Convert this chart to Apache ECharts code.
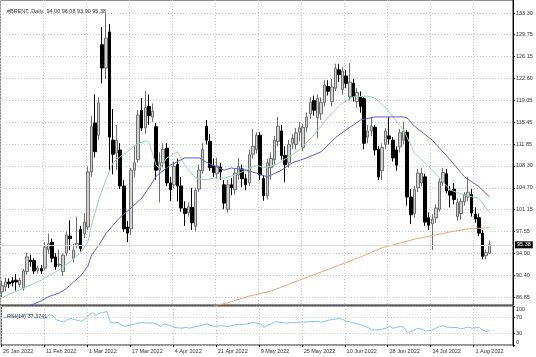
<!DOCTYPE html>
<html><head><meta charset="utf-8">
<script src="https://cdn.jsdelivr.net/npm/echarts@6/dist/echarts.min.js"></script>
<style>html,body{margin:0;padding:0;background:#fff}#c{width:536px;height:357px}</style>
</head><body><div id="c"></div>
<script>
const symbolName = '#BRENT.,Daily';
const dates = ['26 Jan 2022','27 Jan 2022','28 Jan 2022','31 Jan 2022','1 Feb 2022','2 Feb 2022','3 Feb 2022','4 Feb 2022','7 Feb 2022','8 Feb 2022','9 Feb 2022','10 Feb 2022',
'11 Feb 2022','14 Feb 2022','15 Feb 2022','16 Feb 2022','17 Feb 2022','18 Feb 2022','21 Feb 2022','22 Feb 2022','23 Feb 2022','24 Feb 2022','25 Feb 2022','28 Feb 2022',
'1 Mar 2022','2 Mar 2022','3 Mar 2022','4 Mar 2022','7 Mar 2022','8 Mar 2022','9 Mar 2022','10 Mar 2022','11 Mar 2022','14 Mar 2022','15 Mar 2022','16 Mar 2022',
'17 Mar 2022','18 Mar 2022','21 Mar 2022','22 Mar 2022','23 Mar 2022','24 Mar 2022','25 Mar 2022','28 Mar 2022','29 Mar 2022','30 Mar 2022','31 Mar 2022','1 Apr 2022',
'4 Apr 2022','5 Apr 2022','6 Apr 2022','7 Apr 2022','8 Apr 2022','11 Apr 2022','12 Apr 2022','13 Apr 2022','14 Apr 2022','18 Apr 2022','19 Apr 2022','20 Apr 2022',
'21 Apr 2022','22 Apr 2022','25 Apr 2022','26 Apr 2022','27 Apr 2022','28 Apr 2022','29 Apr 2022','2 May 2022','3 May 2022','4 May 2022','5 May 2022','6 May 2022',
'9 May 2022','10 May 2022','11 May 2022','12 May 2022','13 May 2022','16 May 2022','17 May 2022','18 May 2022','19 May 2022','20 May 2022','23 May 2022','24 May 2022',
'25 May 2022','26 May 2022','27 May 2022','30 May 2022','31 May 2022','1 Jun 2022','2 Jun 2022','3 Jun 2022','6 Jun 2022','7 Jun 2022','8 Jun 2022','9 Jun 2022',
'10 Jun 2022','13 Jun 2022','14 Jun 2022','15 Jun 2022','16 Jun 2022','17 Jun 2022','20 Jun 2022','21 Jun 2022','22 Jun 2022','23 Jun 2022','24 Jun 2022','27 Jun 2022',
'28 Jun 2022','29 Jun 2022','30 Jun 2022','1 Jul 2022','4 Jul 2022','5 Jul 2022','6 Jul 2022','7 Jul 2022','8 Jul 2022','11 Jul 2022','12 Jul 2022','13 Jul 2022',
'14 Jul 2022','15 Jul 2022','18 Jul 2022','19 Jul 2022','20 Jul 2022','21 Jul 2022','22 Jul 2022','25 Jul 2022','26 Jul 2022','27 Jul 2022','28 Jul 2022','29 Jul 2022',
'1 Aug 2022','2 Aug 2022','3 Aug 2022','4 Aug 2022','5 Aug 2022'];
const opens = [87.7,88.5,89.3,89.5,89.6,88.9,88.3,91.0,92.9,92.8,91.2,91.5,
91.6,94.6,95.8,93.4,92.1,91.0,94.0,96.8,93.2,95.3,97.9,97.2,
98.3,107.3,115.3,113.3,128.1,124.3,130.2,112.5,110.4,110.9,105.0,98.3,
98.0,107.6,109.3,117.4,114.5,118.0,116.3,114.7,107.6,108.8,111.2,105.5,
105.2,108.5,105.0,101.3,100.6,101.5,98.4,104.5,107.5,114.8,112.3,108.3,
107.0,108.1,105.2,101.2,105.2,104.4,106.8,107.8,106.2,105.5,110.2,111.0,
113.3,106.2,103.4,108.0,109.3,112.3,114.0,110.0,108.8,112.0,111.8,113.8,
111.3,114.6,116.8,119.0,116.2,116.8,118.7,121.3,118.8,121.0,124.0,120.8,
123.0,119.6,121.8,118.8,119.6,119.3,113.0,114.0,114.6,111.0,107.5,111.8,
113.2,112.5,110.9,111.4,112.5,113.8,103.2,100.5,104.7,105.5,106.5,99.8,
98.8,99.8,101.2,105.6,107.0,104.2,104.5,100.0,100.5,102.4,103.2,103.6,
100.4,99.8,97.3,93.6,94.00];
const highs = [89.5,90.0,89.9,90.1,90.6,90.0,91.4,94.1,93.8,93.2,92.0,92.1,
95.8,97.2,96.4,94.0,94.6,94.0,97.6,99.4,95.5,100.0,98.5,100.6,
108.2,116.5,120.0,119.5,131.0,133.3,131.5,117.6,115.0,112.0,106.0,99.3,
108.0,111.5,117.4,119.4,120.6,120.0,118.5,115.3,110.5,112.0,112.0,106.5,
109.0,109.5,106.5,102.5,102.3,104.7,104.7,108.5,112.0,115.8,113.5,109.5,
109.6,108.8,106.0,106.0,106.3,107.8,109.6,108.5,107.0,111.0,114.3,113.8,
113.8,106.8,109.5,110.5,113.2,116.3,115.0,111.5,112.5,113.5,114.5,115.5,
115.2,117.0,119.5,119.8,120.0,119.5,122.3,122.3,122.5,125.0,125.0,124.5,
124.0,125.1,122.5,121.0,120.5,119.5,115.0,116.3,115.0,111.5,112.0,114.5,
116.3,113.0,111.5,114.3,115.5,114.2,104.5,105.0,107.8,108.0,107.0,100.7,
100.4,102.0,106.3,108.0,107.8,105.0,105.5,103.0,103.0,104.0,106.5,104.5,
101.5,100.5,97.8,94.6,96.08];
const lows = [86.8,87.8,88.3,88.6,87.9,88.4,87.9,90.5,91.8,90.6,90.7,90.6,
91.2,93.9,92.5,91.3,91.7,90.3,93.5,94.5,92.5,94.8,94.3,96.5,
97.8,106.5,109.7,112.5,121.8,122.5,107.6,106.9,107.6,104.5,97.5,95.8,
97.0,106.5,108.8,114.0,113.5,115.0,115.5,106.0,102.3,108.0,105.0,102.5,
104.6,102.5,100.8,98.5,100.0,97.8,97.6,104.0,107.0,111.8,107.5,106.5,
106.2,106.0,101.2,100.6,103.5,103.6,106.0,104.8,104.3,105.0,109.5,110.3,
106.0,102.6,102.8,106.0,108.5,111.5,109.3,105.6,108.0,111.0,111.0,112.3,
110.7,113.8,116.0,116.5,112.8,115.8,118.0,119.8,118.0,120.5,122.0,120.0,
121.0,119.0,118.8,117.8,117.0,111.0,112.0,113.2,110.0,106.0,106.0,111.0,
111.8,109.0,107.5,110.5,111.8,101.8,98.8,99.8,104.0,105.0,98.5,97.8,
94.5,99.0,100.8,105.0,103.8,101.5,102.0,99.3,99.5,101.8,102.5,100.0,
99.0,96.8,93.0,93.0,93.90];
const closes = [88.7,89.3,89.0,89.2,89.3,89.6,91.1,93.4,92.6,91.1,91.6,91.1,
95.0,95.6,93.2,91.8,92.2,93.7,97.0,96.4,94.5,95.6,94.8,99.1,
107.3,114.7,110.6,118.6,124.3,129.2,113.0,110.2,112.5,105.0,98.0,97.3,
107.6,108.8,116.6,114.5,117.8,116.5,117.2,107.6,108.8,111.0,105.5,104.4,
108.2,105.0,101.4,100.5,101.6,99.0,104.3,107.6,111.0,112.5,108.0,107.2,
108.3,107.3,102.2,105.2,104.7,107.1,108.2,106.2,105.2,110.1,111.5,113.3,
106.8,103.4,108.8,109.5,112.5,114.8,110.0,108.5,111.8,112.8,113.7,114.5,
114.6,116.3,118.7,117.4,119.3,118.7,121.5,120.5,121.2,124.2,123.2,123.8,
121.8,122.0,119.6,120.3,118.0,112.0,114.0,114.8,110.9,106.5,111.3,114.0,
112.7,109.6,108.4,113.7,114.0,103.2,100.3,104.4,107.1,107.1,99.1,98.6,
99.6,101.4,105.7,107.2,104.2,103.5,102.8,102.3,102.5,103.6,104.0,100.6,
99.6,97.3,93.5,94.1,95.38];
// moving averages: [bar index, value]
const maFast = [[0,86.7],[2,87.3],[5,88.0],[8,88.8],[11,89.6],[13,90.3],[16,91.3],[19,92.6],[22,94.1],[24,95.9],[25,98.6],[27,102.7],[29,106.0],[31,108.8],[33,109.8],[35,110.6],[37,111.6],[40,112.4],[41,112.2],[43,108.4],[44,107.9],[46,109.6],[49,110.6],[51,108.4],[54,106.3],[57,106.0],[59,106.3],[62,106.3],[65,106.8],[68,107.6],[71,108.4],[73,108.0],[76,108.4],[80,109.75],[83,110.9],[87,113.35],[91,116.3],[95,118.6],[98,119.6],[102,119.7],[104,119.4],[107,117.8],[112,114.2],[115,110.4],[120,107.6],[125,104.35],[129,103.5],[133,103.0],[136,100.6]];
const maMid = [[8,85.5],[11,86.2],[13,86.9],[16,87.5],[18,88.2],[20,89.3],[22,90.3],[24,91.9],[25,93.7],[27,95.3],[29,97.2],[31,98.6],[33,99.9],[36,101.4],[39,103.0],[41,104.7],[43,106.6],[47,108.4],[51,109.6],[55,109.6],[57,108.9],[60,108.1],[62,107.6],[64,107.95],[68,107.6],[71,107.1],[74,106.5],[78,107.6],[81,108.8],[85,109.6],[89,110.6],[93,112.9],[96,114.2],[100,115.8],[104,116.3],[107,116.3],[112,116.3],[113,116.1],[115,114.8],[120,112.5],[125,109.26],[129,106.5],[133,104.9],[136,103.2]];
const maSlow = [[59,85.4],[63,85.9],[69,87.0],[75,87.8],[83,89.6],[92,91.6],[100,93.4],[106,94.9],[115,96.3],[125,97.5],[130,98.0],[136,98.2]];
const rsiPoints = [[0,69.8],[2,72.4],[5,74.2],[7,79.6],[8,77.8],[9,68.9],[10,71.5],[11,67.1],[12,69.8],[13,77.8],[14,74.2],[15,63.6],[17,59.1],[18,65.3],[19,68.0],[21,62.7],[22,60.9],[23,67.1],[24,76.9],[25,83.1],[26,76.0],[27,81.3],[28,83.1],[29,85.8],[30,58.2],[31,56.4],[32,58.2],[33,52.0],[34,47.6],[36,52.0],[38,56.4],[39,58.2],[40,56.4],[42,56.4],[43,53.8],[44,47.6],[45,53.8],[47,49.3],[48,44.9],[50,43.1],[51,45.8],[52,43.1],[54,47.6],[55,49.3],[57,53.8],[59,47.6],[61,49.3],[63,47.6],[65,52.0],[66,52.0],[68,53.8],[70,58.2],[72,53.8],[73,44.9],[74,51.1],[75,53.8],[76,60.0],[79,56.4],[82,58.2],[85,59.1],[88,60.9],[89,58.2],[91,63.6],[92,65.3],[94,68.0],[95,65.3],[96,60.9],[98,56.4],[100,52.0],[101,47.6],[102,44.9],[103,38.7],[105,38.7],[107,43.1],[108,47.6],[109,43.1],[111,47.6],[112,45.8],[113,31.6],[115,38.7],[116,43.1],[117,40.4],[118,36.0],[120,38.7],[122,47.6],[123,49.3],[124,45.8],[126,44.9],[127,44.9],[128,41.3],[130,45.8],[131,43.1],[133,44.9],[134,38.5],[135,34.5],[136,37.3741]];
const rsiLast = 37.3741;
const priceTicks = [133.30,129.75,126.15,122.60,119.05,115.45,111.85,108.30,104.70,101.15,97.55,94.00,90.40,86.85];
const rsiTicks = [0,30,70,100];
const padBars = 6;

const n = dates.length;
const cats = dates.concat(Array.from({length: padBars}, (_, k) => '_pad' + k));
const candles = dates.map((d, i) => [opens[i], closes[i], lows[i], highs[i]]);
const lastClose = closes[n - 1];
const header = symbolName + '  ' + [opens[n-1], highs[n-1], lows[n-1], closes[n-1]].map(v => v.toFixed(2)).join(' ');
const FONT = 'Liberation Sans';
const TXT = '#333';
const gridDot = {color: '#c6c6c6', type: [1, 2], width: 1};

const chart = echarts.init(document.getElementById('c'), null, {renderer: 'canvas'});
chart.setOption({
  animation: false,
  backgroundColor: '#fff',
  title: [
    {text: header, left: 2, top: 3, textStyle: {fontSize: 5.5, fontWeight: 'normal', color: TXT, fontFamily: FONT}},
    {text: 'RSI(14) ' + rsiLast.toFixed(4), left: 2, top: 308, textStyle: {fontSize: 5.5, fontWeight: 'normal', color: TXT, fontFamily: FONT}}
  ],
  grid: [
    {left: 0, right: 23, top: 0, height: 305, show: true, borderColor: '#222', borderWidth: 1, backgroundColor: 'transparent'},
    {left: 0, right: 23, top: 306, height: 39, show: true, borderColor: '#222', borderWidth: 1, backgroundColor: 'transparent'}
  ],
  xAxis: [
    {type: 'category', gridIndex: 0, data: cats, boundaryGap: true,
     axisLine: {show: false}, axisTick: {show: false, interval: 11}, axisLabel: {show: false, interval: 11},
     splitLine: {show: true, interval: 11, lineStyle: gridDot}},
    {type: 'category', gridIndex: 1, data: cats, boundaryGap: true,
     axisLine: {show: false}, axisTick: {show: true, interval: 11, length: 2, lineStyle: {color: '#000'}},
     axisLabel: {show: true, interval: 11, align: 'left', margin: 3, fontSize: 5.5, color: TXT, fontFamily: FONT,
       formatter: v => v.startsWith('_pad') ? '' : v},
     splitLine: {show: true, interval: 11, lineStyle: gridDot}}
  ],
  yAxis: [
    {type: 'value', gridIndex: 0, position: 'right', min: 85.54, max: 135.426, scale: true,
     axisLine: {show: true, lineStyle: {color: '#000'}},
     axisTick: {show: true, length: 2, customValues: priceTicks, lineStyle: {color: '#000'}},
     axisLabel: {show: true, customValues: priceTicks, margin: 3, fontSize: 5.5, color: TXT, fontFamily: FONT, formatter: v => v.toFixed(2)},
     splitLine: {show: true, lineStyle: gridDot}},
    {type: 'value', gridIndex: 1, position: 'right', min: 0, max: 100,
     axisLine: {show: true, lineStyle: {color: '#000'}},
     axisTick: {show: true, length: 2, customValues: rsiTicks, lineStyle: {color: '#000'}},
     axisLabel: {show: true, customValues: rsiTicks, margin: 3, fontSize: 5.5, color: TXT, fontFamily: FONT,
       verticalAlignMaxLabel: 'top', verticalAlignMinLabel: 'bottom'},
     splitLine: {show: true, lineStyle: gridDot}}
  ],
  series: [
    {type: 'candlestick', xAxisIndex: 0, yAxisIndex: 0, data: candles, barWidth: 3, z: 3,
     itemStyle: {color: '#d2d2d2', color0: '#000', borderColor: '#6e6e6e', borderColor0: '#000', borderWidth: 1},
     markLine: {silent: true, symbol: 'none', animation: false,
       lineStyle: {color: '#dadada', type: 'solid', width: 1},
       label: {show: true, position: 'end', distance: 2, backgroundColor: '#000', color: '#fff', padding: [1, 2, 0, 2],
         fontSize: 5.5, fontFamily: FONT, formatter: () => lastClose.toFixed(2)},
       data: [{yAxis: lastClose}]}},
    {type: 'line', xAxisIndex: 0, yAxisIndex: 0, data: maFast, showSymbol: false, z: 4, lineStyle: {color: '#98d4b0', width: 1}},
    {type: 'line', xAxisIndex: 0, yAxisIndex: 0, data: maMid, showSymbol: false, z: 4, lineStyle: {color: '#5c5cd6', width: 1}},
    {type: 'line', xAxisIndex: 0, yAxisIndex: 0, data: maSlow, showSymbol: false, z: 4, lineStyle: {color: '#eba67d', width: 1}},
    {type: 'line', xAxisIndex: 1, yAxisIndex: 1, data: rsiPoints, showSymbol: false, z: 4, lineStyle: {color: '#86bfee', width: 1}}
  ]
});
</script>
</body></html>
